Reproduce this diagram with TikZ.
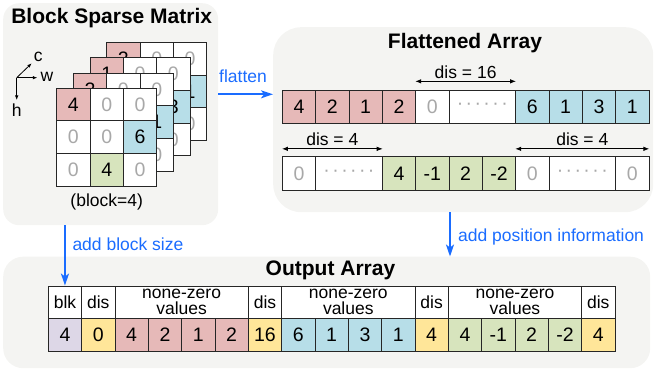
\documentclass[tikz,border=0pt]{standalone}
\usepackage{fontspec}
\setmainfont{Liberation Sans}
\usetikzlibrary{arrows.meta}
\definecolor{panelgray}{HTML}{F4F4F2}
\definecolor{pk}{HTML}{E6B9B8}
\definecolor{bl}{HTML}{B7DEE8}
\definecolor{gr}{HTML}{D7E4BD}
\definecolor{yl}{HTML}{FFE699}
\definecolor{lv}{HTML}{DDD7E7}
\definecolor{zg}{HTML}{A8A8A8}
\definecolor{ab}{HTML}{1A6CFF}
\newcommand\valfont{\fontsize{19.5}{22}\selectfont}
\newcommand\smfont{\fontsize{17.5}{16}\selectfont}
\newcommand\ttlfont{\fontsize{21}{24}\selectfont\bfseries}
\newcommand\dotrow{\textcolor{zg}{\mbox{·\kern2.4pt·\kern2.4pt·\kern2.4pt·\kern2.4pt·\kern2.4pt·}}}
\begin{document}
\begin{tikzpicture}[x=1pt,y=-1pt,
  panel/.style={fill=panelgray,draw=none,anchor=north west,inner sep=0pt},
  ttl/.style={font=\ttlfont,inner sep=0pt},
  lbl/.style={font=\smfont,inner sep=0pt},
  blu/.style={font=\smfont,inner sep=0pt,text=ab},
  cell/.style={draw=black!85,line width=0.8pt,minimum width=33.33pt,minimum height=33.33pt,inner sep=0pt,font=\valfont,text=black,fill=white},
  mcell/.style={cell,minimum height=32.6pt},
  ocell/.style={cell,minimum height=32.5pt},
  hcell/.style={ocell,font=\smfont,align=center},
  zero/.style={text=zg},
  wide/.style={minimum width=66.67pt},
  dimarr/.style={draw=black,line width=0.8pt,{Latex[length=6pt,width=4.5pt]}-{Latex[length=6pt,width=4.5pt]}},
  axarr/.style={draw=black,line width=0.8pt,-{Latex[length=4.5pt,width=3.5pt]}},
  bluearr/.style={draw=ab,line width=1.6pt,-{Stealth[length=12pt,width=8pt,inset=3pt]}}
]
\useasboundingbox (0,0) rectangle (654,369);

% panels
\node[panel,rounded corners=16pt,minimum width=215pt,minimum height=222pt] (pL) at (3,3) {};
\node[panel,rounded corners=28pt,minimum width=380pt,minimum height=185pt] (pF) at (273,27) {};
\node[panel,rounded corners=20pt,minimum width=647pt,minimum height=111.5pt] (pO) at (3,256.5) {};

% titles
\node[ttl] (tL) at (111.7,18) {Block Sparse Matrix};
\node[ttl] (tF) at (465,43.3) {Flattened Array};
\node[ttl] (tO) at (330.5,270) {Output Array};

% matrix stack (back to front); cells fully hidden behind the next layer carry no text
\foreach \k/\p/\b in {3/2/1, 2/1/3, 1/2/1} {
  \pgfmathsetmacro\mx{56.7+16.67*\k}
  \pgfmathsetmacro\my{88.3-15.2*\k}
  \node[mcell,fill=pk] (m\k00) at (\mx+16.67,\my+16.3) {\p};
  \node[mcell,zero] (m\k01) at (\mx+50,\my+16.3) {0};
  \node[mcell,zero] (m\k02) at (\mx+83.33,\my+16.3) {0};
  \node[mcell] (m\k10) at (\mx+16.67,\my+48.9) {};
  \node[mcell] (m\k11) at (\mx+50,\my+48.9) {};
  \node[mcell,fill=bl] (m\k12) at (\mx+83.33,\my+48.9) {\b};
  \node[mcell] (m\k20) at (\mx+16.67,\my+81.5) {};
  \node[mcell,fill=gr] (m\k21) at (\mx+50,\my+81.5) {};
  \node[mcell,zero] (m\k22) at (\mx+83.33,\my+81.5) {0};
}
\node[mcell,fill=pk] (m000) at (73.37,104.6) {4};
\node[mcell,zero] (m001) at (106.7,104.6) {0};
\node[mcell,zero] (m002) at (140.03,104.6) {0};
\node[mcell,zero] (m010) at (73.37,137.2) {0};
\node[mcell,zero] (m011) at (106.7,137.2) {0};
\node[mcell,fill=bl] (m012) at (140.03,137.2) {6};
\node[mcell,zero] (m020) at (73.37,169.8) {0};
\node[mcell,fill=gr] (m021) at (106.7,169.8) {4};
\node[mcell,zero] (m022) at (140.03,169.8) {0};
\node[lbl] (blk4) at (106.7,201.7) {(block=4)};

% axes
\coordinate (ax) at (16.7,77.7);
\coordinate (axw) at (37.3,77.7);
\coordinate (axc) at (31.7,63.3);
\coordinate (axh) at (16.7,100);
\draw[axarr] (ax) -- (axw);
\draw[axarr] (ax) -- (axc);
\draw[axarr] (ax) -- (axh);
\node[lbl,anchor=west] (lw) at (40.5,77) {w};
\node[lbl] (lc) at (38.3,56.5) {c};
\node[lbl] (lh) at (16.7,110) {h};

% flattened array row 1
\foreach \v [count=\i from 0] in {4,2,1,2}
  \node[cell,fill=pk] (a\i) at ({282.3+33.333*(\i+0.5)},106.7) {\v};
\node[cell,zero] (a4) at ({282.3+33.333*4.5},106.7) {0};
\node[cell,wide] (a5) at ({282.3+33.333*6},106.7) {\dotrow};
\foreach \v [count=\i from 6] in {6,1,3,1}
  \node[cell,fill=bl] (a\i) at ({282.3+33.333*(\i+1.5)},106.7) {\v};

% flattened array row 2
\node[cell,zero] (b0) at ({282.3+33.333*0.5},173.3) {0};
\node[cell,wide] (b1) at ({282.3+33.333*2},173.3) {\dotrow};
\foreach \v [count=\i from 2] in {4,-1,2,-2}
  \node[cell,fill=gr] (b\i) at ({282.3+33.333*(\i+1.5)},173.3) {\v};
\node[cell,zero] (b6) at ({282.3+33.333*7.5},173.3) {0};
\node[cell,wide] (b7) at ({282.3+33.333*9},173.3) {\dotrow};
\node[cell,zero] (b8) at ({282.3+33.333*10.5},173.3) {0};

% distance arrows
\draw[dimarr] ([yshift=8.3pt]a4.north west) -- node[lbl,above=2.6pt] (d16) {dis = 16} ([yshift=8.3pt]a5.north east);
\draw[dimarr] ([yshift=7.4pt]b0.north west) -- node[lbl,above=3.2pt] (d4a) {dis = 4} ([yshift=7.4pt]b1.north east);
\draw[dimarr] ([yshift=7.4pt]b6.north west) -- node[lbl,above=3.2pt] (d4b) {dis = 4} ([yshift=7.4pt]b8.north east);

% output array header
\node[hcell] (h0) at ({48.3+33.333*0.5},302.2) {blk};
\node[hcell] (h1) at ({48.3+33.333*1.5},302.2) {dis};
\node[hcell,minimum width=133.33pt] (h2) at ({48.3+33.333*4},302.2) {none-zero\\values};
\node[hcell] (h3) at ({48.3+33.333*6.5},302.2) {dis};
\node[hcell,minimum width=133.33pt] (h4) at ({48.3+33.333*9},302.2) {none-zero\\values};
\node[hcell] (h5) at ({48.3+33.333*11.5},302.2) {dis};
\node[hcell,minimum width=133.33pt] (h6) at ({48.3+33.333*14},302.2) {none-zero\\values};
\node[hcell] (h7) at ({48.3+33.333*16.5},302.2) {dis};

% output array values
\foreach \v/\c [count=\i from 0] in {4/lv,0/yl,4/pk,2/pk,1/pk,2/pk,16/yl,6/bl,1/bl,3/bl,1/bl,4/yl,4/gr,-1/gr,2/gr,-2/gr,4/yl}
  \node[ocell,fill=\c] (o\i) at ({48.3+33.333*(\i+0.5)},334.7) {\v};

% blue process arrows
\coordinate (fl) at (245,94.3);
\draw[bluearr] (pL.east |- fl) -- (pF.west |- fl);
\node[blu] (tfl) at (243,76.7) {flatten};

\draw[bluearr] (pL.south -| h0) -- (h0.north);
\node[blu,anchor=west] (tabs) at (72.3,244.3) {add block size};

\coordinate (pi) at (450,236.7);
\draw[bluearr] (pF.south -| pi) -- (pO.north -| pi);
\node[blu,anchor=west] (tapi) at (458,236.7) {add position information};
\end{tikzpicture}
\end{document}
